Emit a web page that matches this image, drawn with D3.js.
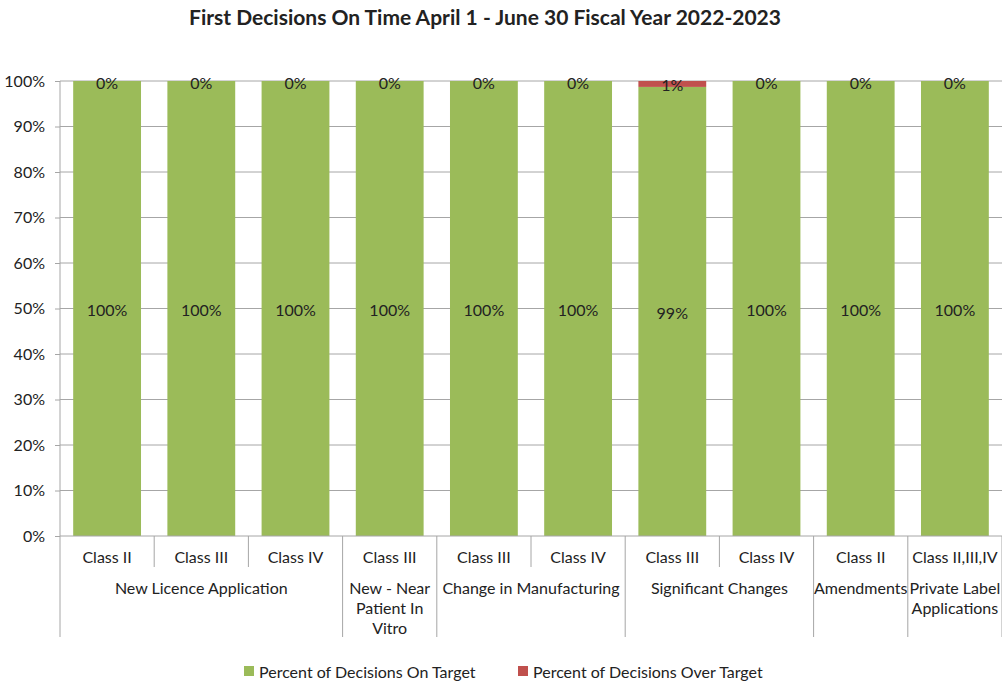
<!DOCTYPE html>
<html>
<head>
<meta charset="utf-8">
<script src="https://cdn.jsdelivr.net/npm/d3@7"></script>
<style>
  body { margin: 0; background: #fff; }
  svg text { font-family: Lato, "Open Sans", sans-serif; fill: #222; }
</style>
</head>
<body>
<div id="chart"></div>
<script>
// chart data
var classes = ["Class II", "Class III", "Class IV", "Class III", "Class III", "Class IV",
               "Class III", "Class IV", "Class II", "Class II,III,IV"];
var groups = [
  {name: ["New Licence Application"], from: 0, to: 2},
  {name: ["New - Near", "Patient In", "Vitro"], from: 3, to: 3},
  {name: ["Change in Manufacturing"], from: 4, to: 5},
  {name: ["Significant Changes"], from: 6, to: 7},
  {name: ["Amendments"], from: 8, to: 8},
  {name: ["Private Label", "Applications"], from: 9, to: 9}
];
var onTarget = [100, 100, 100, 100, 100, 100, 98.7, 100, 100, 100];
var overTarget = [0, 0, 0, 0, 0, 0, 1.3, 0, 0, 0];
var yTicks = [0, 10, 20, 30, 40, 50, 60, 70, 80, 90, 100];
var seriesNames = ["Percent of Decisions On Target", "Percent of Decisions Over Target"];
var colors = ["#9bbb59", "#c0504d"];

var width = 1002, height = 681;
var margin = {top: 81, right: 0, bottom: 145, left: 60};
var plotW = width - margin.left - margin.right,
    plotH = height - margin.top - margin.bottom;
var fs = "16px";

var svg = d3.select("#chart").append("svg")
    .attr("width", width)
    .attr("height", height);

svg.append("text")
    .attr("x", 485)
    .attr("y", 16)
    .attr("text-anchor", "middle")
    .attr("dominant-baseline", "central")
    .style("font-size", "21px")
    .style("font-weight", "bold")
    .text("First Decisions On Time April 1 - June 30 Fiscal Year 2022-2023");

var g = svg.append("g")
    .attr("transform", "translate(" + margin.left + "," + margin.top + ")");

var idx = d3.range(classes.length);
var band = d3.scaleBand().domain(idx).range([0, plotW]).paddingInner(0.28).paddingOuter(0.14);
var step = band.step();
var y = d3.scaleLinear().domain([0, 100]).range([plotH, 0]);

// gridlines
g.append("g").selectAll("line")
    .data(yTicks.slice(1))
    .enter().append("line")
    .attr("x1", 0).attr("x2", plotW)
    .attr("y1", function(d) { return y(d); })
    .attr("y2", function(d) { return y(d); })
    .attr("stroke", "#a6a6a6");

// stacked bars
var stackData = idx.map(function(i) { return {i: i, on: onTarget[i], over: overTarget[i]}; });
var stack = d3.stack().keys(["on", "over"])(stackData);

var layers = g.selectAll(".layer")
    .data(stack)
    .enter().append("g")
    .attr("fill", function(d, k) { return colors[k]; });

layers.selectAll("rect")
    .data(function(d) { return d; })
    .enter().append("rect")
    .attr("x", function(d) { return band(d.data.i); })
    .attr("width", band.bandwidth())
    .attr("y", function(d) { return y(d[1]); })
    .attr("height", function(d) { return y(d[0]) - y(d[1]); });

layers.selectAll("text")
    .data(function(d) { return d; })
    .enter().append("text")
    .attr("x", function(d) { return band(d.data.i) + band.bandwidth() / 2; })
    .attr("y", function(d) { return (y(d[0]) + y(d[1])) / 2 + 1; })
    .attr("text-anchor", "middle")
    .attr("dominant-baseline", "central")
    .style("font-size", fs)
    .text(function(d) { return d3.format(".0f")(d[1] - d[0]) + "%"; });

// y axis
var yAxis = g.append("g")
    .call(d3.axisLeft(y).tickValues(yTicks).tickSize(5).tickPadding(10)
        .tickFormat(function(d) { return d + "%"; }));
yAxis.select(".domain").attr("stroke", "#a6a6a6").attr("d", "M0,0V" + plotH);
yAxis.selectAll(".tick line").attr("stroke", "#a6a6a6");
yAxis.selectAll(".tick text").style("font-size", fs).attr("fill", "#222");

// x axis (two-level category labels)
var xg = g.append("g").attr("transform", "translate(0," + plotH + ")");
xg.append("line").attr("x1", 0).attr("x2", plotW).attr("stroke", "#a6a6a6");

var groupEdges = [0].concat(groups.map(function(gr) { return gr.to + 1; }));
d3.range(classes.length + 1).forEach(function(k) {
  var isGroupEdge = groupEdges.indexOf(k) >= 0;
  xg.append("line")
      .attr("x1", k * step).attr("x2", k * step)
      .attr("y1", 0).attr("y2", isGroupEdge ? 101 : 31)
      .attr("stroke", "#a6a6a6");
});

xg.selectAll(".cls")
    .data(idx)
    .enter().append("text")
    .attr("x", function(i) { return (i + 0.5) * step; })
    .attr("y", 20)
    .attr("text-anchor", "middle")
    .attr("dominant-baseline", "central")
    .style("font-size", fs)
    .text(function(i) { return classes[i]; });

groups.forEach(function(gr) {
  var cx = (gr.from + gr.to + 1) / 2 * step;
  gr.name.forEach(function(line, j) {
    xg.append("text")
        .attr("x", cx)
        .attr("y", 51 + j * 20)
        .attr("text-anchor", "middle")
        .attr("dominant-baseline", "central")
        .style("font-size", fs)
        .text(line);
  });
});

// legend
var legendX = [244, 518];
var legend = svg.selectAll(".legend")
    .data(seriesNames)
    .enter().append("g")
    .attr("transform", function(d, k) { return "translate(" + legendX[k] + ",671)"; });
legend.append("rect")
    .attr("x", 0).attr("y", -5).attr("width", 10).attr("height", 10)
    .attr("fill", function(d, k) { return colors[k]; });
legend.append("text")
    .attr("x", 15)
    .attr("dominant-baseline", "central")
    .style("font-size", fs)
    .text(function(d) { return d; });
</script>
</body>
</html>
